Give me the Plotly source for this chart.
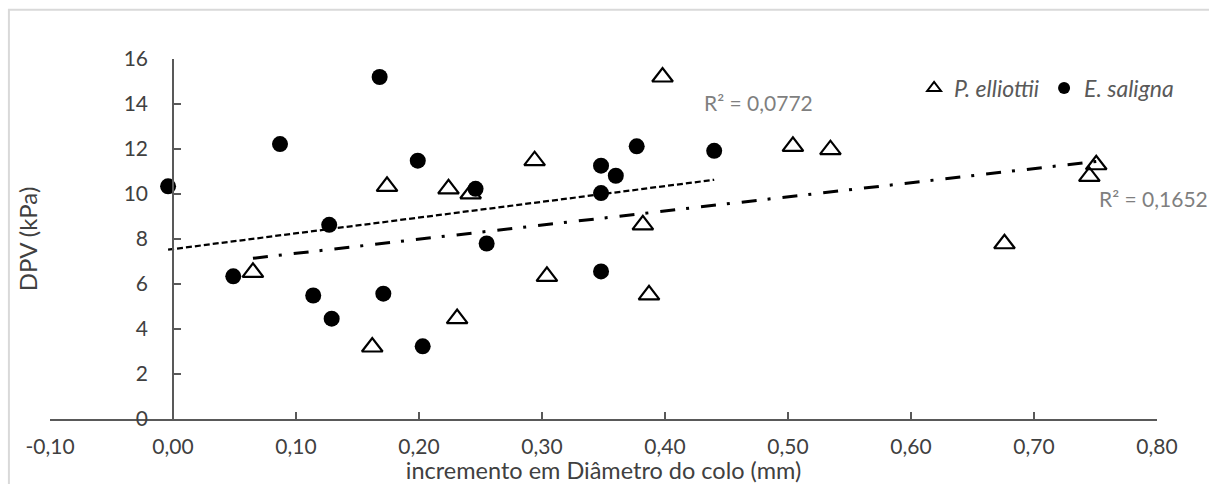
import numpy as np
import plotly.graph_objects as go

# ---- data ----
pe_x = [0.065, 0.162, 0.174, 0.224, 0.231, 0.242, 0.294, 0.304, 0.382, 0.387,
        0.398, 0.504, 0.5345, 0.676, 0.745, 0.7506]
pe_y = [6.52, 3.20, 10.34, 10.23, 4.46, 10.01, 11.48, 6.34, 8.63, 5.52,
        15.20, 12.12, 11.97, 7.79, 10.78, 11.30]

es_x = [-0.004, 0.049, 0.087, 0.114, 0.127, 0.129, 0.168, 0.171, 0.199, 0.203,
        0.246, 0.255, 0.348, 0.348, 0.348, 0.360, 0.377, 0.440]
es_y = [10.34, 6.34, 12.22, 5.49, 8.63, 4.46, 15.20, 5.57, 11.48, 3.23,
        10.23, 7.80, 11.26, 10.04, 6.56, 10.81, 12.12, 11.92]

series_names = ["P. elliottii", "E. saligna"]
r2_labels = ["R² = 0,1652", "R² = 0,0772"]

x_ticks = [-0.10, 0.00, 0.10, 0.20, 0.30, 0.40, 0.50, 0.60, 0.70, 0.80]
x_ticktext = ["-0,10", "0,00", "0,10", "0,20", "0,30", "0,40", "0,50", "0,60", "0,70", "0,80"]
y_ticks = [0, 2, 4, 6, 8, 10, 12, 14, 16]
y_ticktext = ["0", "2", "4", "6", "8", "10", "12", "14", "16"]

x_title = "incremento em Diâmetro do colo (mm)"
y_title = "DPV (kPa)"

FONT = "Lato"
AXIS_COL = "#595959"
TEXT_COL = "#404040"


def trend(xs, ys):
    xs = np.asarray(xs, float)
    ys = np.asarray(ys, float)
    m, b = np.polyfit(xs, ys, 1)
    xx = np.array([xs.min(), xs.max()])
    return xx, m * xx + b


fig = go.Figure()

# trendlines (least-squares fits of each series)
tx, ty = trend(pe_x, pe_y)
fig.add_trace(go.Scatter(x=tx, y=ty, mode="lines", showlegend=False, hoverinfo="skip",
                         line=dict(color="black", width=3, dash="15px,11px,3px,12px")))
tx2, ty2 = trend(es_x, es_y)
fig.add_trace(go.Scatter(x=tx2, y=ty2, mode="lines", showlegend=False, hoverinfo="skip",
                         line=dict(color="black", width=2.25, dash="6px,3px")))

# points
fig.add_trace(go.Scatter(x=pe_x, y=pe_y, mode="markers", name=series_names[0],
                         marker=dict(symbol="triangle-up-open", size=18, color="black",
                                     line=dict(color="black", width=2.2))))
fig.add_trace(go.Scatter(x=es_x, y=es_y, mode="markers", name=series_names[1],
                         marker=dict(symbol="circle", size=16, color="black")))

L, R, T, B = 49.6, 52, 59.3, 64.7
W, H = 1209, 484
pw, ph = W - L - R, H - T - B


def px2paper_x(px):
    return (px - L) / pw


def px2paper_y(py):
    return (H - B - py) / ph


fig.update_layout(
    width=W, height=H,
    margin=dict(l=L, r=R, t=T, b=B, autoexpand=False),
    paper_bgcolor="white", plot_bgcolor="white",
    font=dict(family=FONT, size=21, color=TEXT_COL),
    xaxis=dict(range=[-0.10, 0.80], tickvals=x_ticks, ticktext=x_ticktext, automargin=False,
               showgrid=False, zeroline=False, showline=True, linecolor=AXIS_COL, linewidth=1.5,
               ticks="inside", ticklen=7, tickwidth=1.5, tickcolor=AXIS_COL,
               tickfont=dict(size=21, color=TEXT_COL), ticklabelstandoff=8,
               title=dict(text=x_title, font=dict(size=23.5, color=TEXT_COL), standoff=1)),
    yaxis=dict(range=[0, 16], tickvals=y_ticks, ticktext=y_ticktext, automargin=False,
               anchor="free", position=0.1 / 0.9, side="left",
               showgrid=False, zeroline=False, showline=True, linecolor=AXIS_COL, linewidth=1.5,
               ticks="inside", ticklen=7, tickwidth=1.5, tickcolor=AXIS_COL,
               tickfont=dict(size=21, color=TEXT_COL), ticklabelstandoff=20,
               title=dict(text=y_title, font=dict(size=24, color=TEXT_COL), standoff=78)),
    legend=dict(orientation="h", x=px2paper_x(914), xanchor="left",
                y=px2paper_y(88.3), yanchor="middle",
                font=dict(size=23, color="#595959", family=FONT, style="italic"),
                itemsizing="constant", bgcolor="rgba(0,0,0,0)", borderwidth=0),
    showlegend=True,
)

# R² labels
fig.add_annotation(text=r2_labels[0], xref="paper", yref="paper",
                   x=px2paper_x(1097), y=px2paper_y(198.3), xanchor="left", yanchor="middle",
                   showarrow=False, font=dict(size=21, color="#7f7f7f"))
fig.add_annotation(text=r2_labels[1], xref="paper", yref="paper",
                   x=px2paper_x(701.7), y=px2paper_y(102.3), xanchor="left", yanchor="middle",
                   showarrow=False, font=dict(size=21, color="#7f7f7f"))

# chart-area border
fig.add_shape(type="rect", xref="paper", yref="paper",
              x0=px2paper_x(8.5), x1=px2paper_x(1230), y0=px2paper_y(500), y1=px2paper_y(10),
              line=dict(color="#d9d9d9", width=2), fillcolor="rgba(0,0,0,0)", layer="below")

fig.write_html("out.html")
